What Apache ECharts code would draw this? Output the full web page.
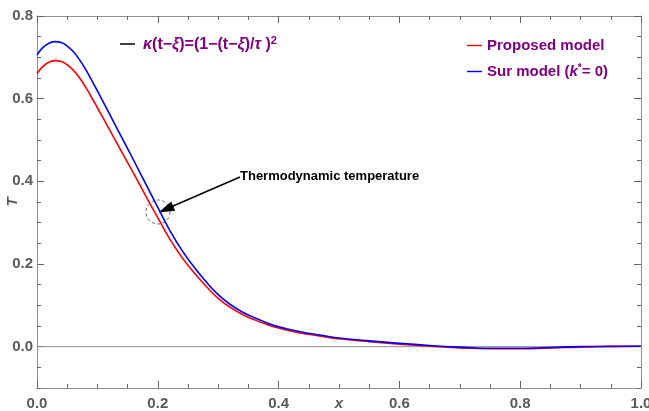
<!DOCTYPE html>
<html><head><meta charset="utf-8">
<script src="https://cdn.jsdelivr.net/npm/echarts@6/dist/echarts.min.js"></script>
<style>html,body{margin:0;padding:0;background:#fff}#c{width:649px;height:411px}</style>
</head><body><div id="c"></div>
<script>
// ---- data ----
const xValues = [0,0.01,0.02,0.03,0.04,0.05,0.06,0.07,0.08,0.09,0.10,0.12,0.14,0.16,0.18,0.20,0.22,0.24,0.26,0.28,0.30,0.32,0.34,0.36,0.38,0.40,0.42,0.44,0.46,0.48,0.50,0.55,0.60,0.65,0.70,0.75,0.80,0.85,0.90,0.95,1.00];
const proposedModel = [0.661,0.678,0.688,0.692,0.690,0.682,0.669,0.651,0.629,0.604,0.578,0.525,0.472,0.419,0.365,0.312,0.260,0.216,0.179,0.146,0.117,0.095,0.078,0.065,0.054,0.045,0.038,0.032,0.028,0.023,0.019,0.012,0.006,0.001,-0.003,-0.005,-0.005,-0.003,-0.001,0.000,0.001];
const surModel = [0.706,0.724,0.734,0.738,0.736,0.727,0.714,0.695,0.672,0.646,0.619,0.563,0.507,0.451,0.394,0.337,0.281,0.233,0.193,0.157,0.126,0.102,0.084,0.070,0.058,0.048,0.041,0.035,0.030,0.025,0.021,0.014,0.008,0.003,-0.001,-0.004,-0.004,-0.002,0.000,0.001,0.001];
const yMajorTicks = [0,0.2,0.4,0.6,0.8];
const seriesNames = ['Proposed model','Sur model (k* = 0)'];
const zeroLine = [[0,0],[1,0]];

const FONT = 'Liberation Sans, Arial, sans-serif';
const FRAME = '#8f8f8f';
const TICK = '#666666';
const LABEL = '#5a5a5a';
const PURPLE = '#800080';

const chart = echarts.init(document.getElementById('c'), null, {renderer:'canvas'});

function pairs(xs, ys){ return xs.map((x,i)=>[x, ys[i]]); }

const frameLine = {show:true, onZero:false, lineStyle:{color:FRAME, width:1}};
const majorTick = {show:true, inside:true, length:7, lineStyle:{color:TICK, width:1}};
const minorTickCfg = {show:true, splitNumber:4, length:4, lineStyle:{color:TICK, width:1}};
const nameStyle = {color:LABEL, fontStyle:'italic', fontWeight:'bold', fontSize:15, fontFamily:FONT};

chart.setOption({
  animation:false,
  backgroundColor:'#fff',
  grid:{left:37, right:8, top:16, bottom:23, containLabel:false, outerBoundsMode:'none'},
  xAxis:[
    {type:'value', position:'bottom', min:0, max:1, interval:0.2,
     axisLine:frameLine, axisTick:majorTick, minorTick:minorTickCfg, splitLine:{show:false},
     axisLabel:{formatter:v=>v.toFixed(1), color:LABEL, fontWeight:'bold', fontSize:15, fontFamily:FONT, margin:8},
     name:'x', nameLocation:'middle', nameGap:8, nameMoveOverlap:false, nameTextStyle:nameStyle},
    {type:'value', position:'top', min:0, max:1, interval:0.2,
     axisLine:frameLine, axisTick:majorTick, minorTick:minorTickCfg, splitLine:{show:false},
     axisLabel:{show:false}}
  ],
  yAxis:[
    {type:'value', position:'left', min:-0.1, max:0.8, interval:0.1,
     axisLine:frameLine, splitLine:{show:false},
     axisTick:{show:true, inside:true, length:7, customValues:yMajorTicks, lineStyle:{color:TICK, width:1}},
     axisLabel:{customValues:yMajorTicks, formatter:v=>v.toFixed(1), color:LABEL, fontWeight:'bold', fontSize:15, fontFamily:FONT, margin:4},
     name:'T', nameLocation:'middle', nameGap:17, nameRotate:90, nameMoveOverlap:false, nameTextStyle:nameStyle},
    {type:'value', position:'left', min:-0.1, max:0.8, interval:0.05,
     axisLine:{show:false, onZero:false}, splitLine:{show:false},
     axisTick:{show:true, inside:true, length:4, lineStyle:{color:TICK, width:1}}, axisLabel:{show:false}},
    {type:'value', position:'right', min:-0.1, max:0.8, interval:0.1,
     axisLine:frameLine, splitLine:{show:false},
     axisTick:{show:true, inside:true, length:7, customValues:yMajorTicks, lineStyle:{color:TICK, width:1}},
     axisLabel:{show:false}},
    {type:'value', position:'right', min:-0.1, max:0.8, interval:0.05,
     axisLine:{show:false, onZero:false}, splitLine:{show:false},
     axisTick:{show:true, inside:true, length:4, lineStyle:{color:TICK, width:1}}, axisLabel:{show:false}}
  ],
  legend:{
    data:seriesNames, orient:'vertical', left:462, top:33, itemWidth:15, itemHeight:14, itemGap:10, itemTextGap:7,
    icon:'path://M0,6.3L15,6.3L15,7.7L0,7.7Z',
    formatter:n => n === seriesNames[0] ? '{b|Proposed model}' : '{b|Sur model (}{i|k}{s|*}{b|= 0)}',
    textStyle:{color:PURPLE, fontWeight:'bold', fontSize:15, fontFamily:FONT,
      rich:{
        b:{color:PURPLE, fontWeight:'bold', fontSize:15, fontFamily:FONT, lineHeight:17},
        i:{color:PURPLE, fontWeight:'bold', fontStyle:'italic', fontSize:15, fontFamily:FONT, lineHeight:17},
        s:{color:PURPLE, fontWeight:'bold', fontSize:10, fontFamily:FONT, verticalAlign:'top', lineHeight:17}
      }}
  },
  series:[
    {type:'line', name:'zero', data:zeroLine, xAxisIndex:0, yAxisIndex:0, symbol:'none', silent:true,
     lineStyle:{color:FRAME, width:1}, z:1},
    {type:'line', name:seriesNames[0], data:pairs(xValues, proposedModel), xAxisIndex:0, yAxisIndex:0,
     symbol:'none', smooth:0.5, itemStyle:{color:'#ff0000'}, lineStyle:{color:'#ff0000', width:1.6}, z:2},
    {type:'line', name:seriesNames[1], data:pairs(xValues, surModel), xAxisIndex:0, yAxisIndex:0,
     symbol:'none', smooth:0.5, itemStyle:{color:'#0000ff'}, lineStyle:{color:'#0000ff', width:1.6}, z:3}
  ],
  graphic:[
    {type:'line', shape:{x1:120, y1:44, x2:135, y2:44}, style:{stroke:'#000', lineWidth:1.5}},
    {type:'text', x:143, y:45, style:{
      text:'{a|κ}{b|(t−}{a|ξ}{b|)=(1−(t−}{a|ξ}{b|)/}{a|τ}{b| )}{s|2}',
      verticalAlign:'middle',
      rich:{
        a:{fill:PURPLE, fontWeight:'bold', fontStyle:'italic', fontSize:16, fontFamily:FONT, lineHeight:20},
        b:{fill:PURPLE, fontWeight:'bold', fontSize:16, fontFamily:FONT, lineHeight:20},
        s:{fill:PURPLE, fontWeight:'bold', fontSize:11, fontFamily:FONT, verticalAlign:'top', lineHeight:20}
      }}},
    {type:'circle', shape:{cx:158, cy:212, r:12}, style:{fill:'none', stroke:'#666', lineWidth:1, lineDash:[3,2.5]}},
    {type:'line', shape:{x1:240, y1:177, x2:172, y2:206.5}, style:{stroke:'#000', lineWidth:1.5}},
    {type:'polygon', shape:{points:[[158.5,212.5],[175.2,210.7],[171.2,201.5]]}, style:{fill:'#000'}},
    {type:'text', x:240, y:176, style:{text:'Thermodynamic temperature', fill:'#000', fontWeight:'bold', fontSize:13, fontFamily:FONT, verticalAlign:'middle'}}
  ]
});
</script>
</body></html>
